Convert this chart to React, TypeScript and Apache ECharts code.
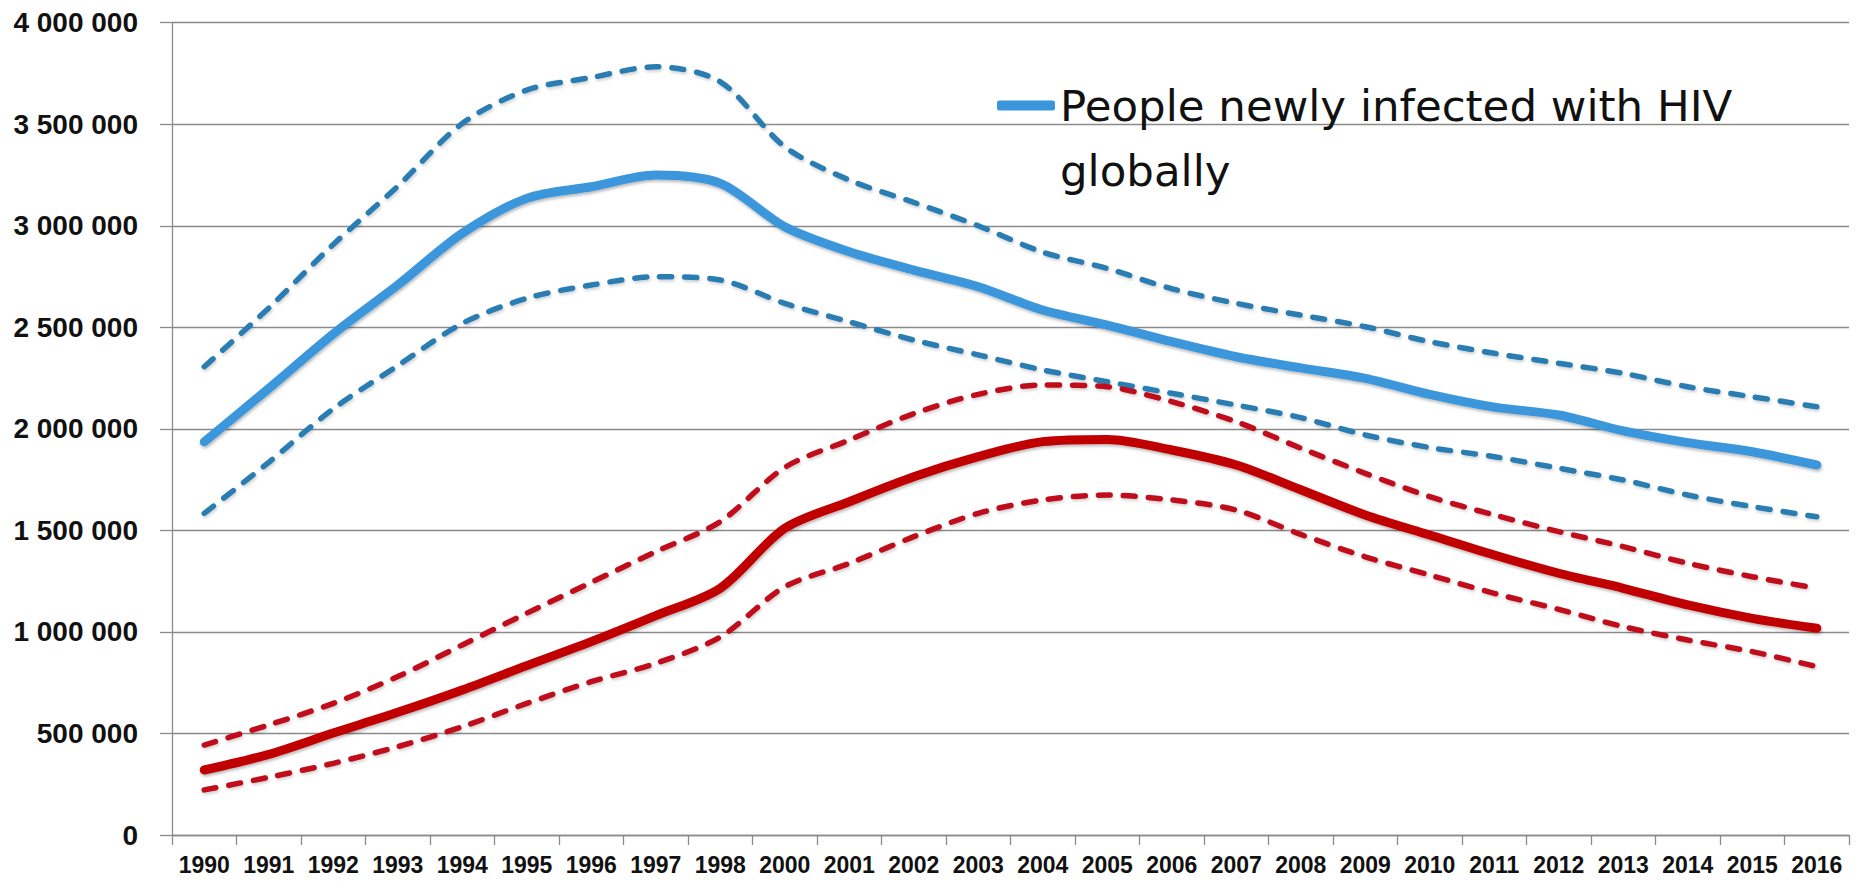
import React, { useEffect, useRef } from "react";
import * as echarts from "echarts";

const years = [
  "1990", "1991", "1992", "1993", "1994", "1995", "1996", "1997", "1998",
  "2000", "2001", "2002", "2003", "2004", "2005", "2006", "2007", "2008",
  "2009", "2010", "2011", "2012", "2013", "2014", "2015", "2016",
];

const globalEstimate = [
  1936000, 2199000, 2467000, 2708000, 2963000, 3135000, 3192000, 3250000, 3209000,
  2995000, 2872000, 2782000, 2700000, 2585000, 2511000, 2429000, 2355000, 2300000,
  2249000, 2170000, 2107000, 2068000, 1990000, 1932000, 1887000, 1822000,
];
const globalUpper = [
  2306000, 2595000, 2908000, 3195000, 3504000, 3668000, 3730000, 3783000, 3709000,
  3389000, 3225000, 3115000, 3000000, 2870000, 2790000, 2690000, 2618000, 2560000,
  2503000, 2429000, 2372000, 2323000, 2273000, 2207000, 2158000, 2109000,
];
const globalLower = [
  1584000, 1835000, 2099000, 2311000, 2519000, 2643000, 2708000, 2749000, 2733000,
  2618000, 2527000, 2437000, 2364000, 2290000, 2232000, 2175000, 2117000, 2055000,
  1970000, 1908000, 1863000, 1806000, 1748000, 1674000, 1617000, 1567000,
];
const redEstimate = [
  320000, 397000, 502000, 604000, 714000, 834000, 952000, 1080000, 1215000,
  1510000, 1641000, 1764000, 1863000, 1937000, 1948000, 1896000, 1822000, 1700000,
  1576000, 1477000, 1379000, 1289000, 1215000, 1133000, 1067000, 1018000,
];
const redUpper = [
  443000, 542000, 648000, 780000, 936000, 1092000, 1244000, 1395000, 1543000,
  1810000, 1945000, 2075000, 2170000, 2216000, 2207000, 2134000, 2035000, 1905000,
  1781000, 1666000, 1576000, 1494000, 1420000, 1338000, 1272000, 1215000,
];
const redLower = [
  222000, 284000, 353000, 435000, 533000, 648000, 755000, 845000, 975000,
  1222000, 1337000, 1469000, 1584000, 1650000, 1674000, 1650000, 1600000, 1480000,
  1370000, 1280000, 1190000, 1111000, 1026000, 960000, 903000, 829000,
];

const LEGEND_NAME = "People newly infected with HIV globally";

const BLUE = "#3a96db";
const BLUE_DASH = "#2b7db3";
const RED = "#c00000";
const RED_DASH = "#bf0a1a";

function fmt(v: number): string {
  return String(v).replace(/\B(?=(\d{3})+(?!\d))/g, " ");
}

export default function App() {
  const ref = useRef<HTMLDivElement>(null);

  useEffect(() => {
    if (!ref.current) return;
    const chart = echarts.init(ref.current, null, { renderer: "svg" });

    const shadow = {
      shadowColor: "rgba(0,0,0,0.28)",
      shadowBlur: 3,
      shadowOffsetX: 1,
      shadowOffsetY: 2,
    };

    const dashed = (name: string, data: number[], color: string) => ({
      name,
      type: "line",
      data,
      symbol: "none",
      smooth: 0.3,
      itemStyle: { color },
      lineStyle: {
        color,
        width: 5.5,
        type: [12, 13],
        cap: "round",
        ...shadow,
        shadowColor: "rgba(0,0,0,0.18)",
      },
      emphasis: { disabled: true },
    });

    const solid = (name: string, data: number[], color: string) => ({
      name,
      type: "line",
      data,
      symbol: "none",
      smooth: 0.3,
      itemStyle: { color },
      lineStyle: { color, width: 9, cap: "round", join: "round", ...shadow },
      emphasis: { disabled: true },
    });

    chart.setOption({
      animation: false,
      backgroundColor: "#ffffff",
      grid: { left: 172, right: 10, top: 22.7, bottom: 47, containLabel: false },
      legend: {
        show: true,
        data: [LEGEND_NAME],
        selectedMode: false,
        left: 997,
        top: 8,
        padding: 0,
        icon: "roundRect",
        itemWidth: 58,
        itemHeight: 10,
        formatter: () => "\nPeople newly infected with HIV\nglobally",
        textStyle: {
          fontFamily: "DejaVu Sans",
          fontSize: 43.5,
          color: "#111111",
          lineHeight: 65,
        },
      },
      xAxis: {
        type: "category",
        data: years,
        boundaryGap: true,
        axisLine: { show: true, lineStyle: { color: "#8a8a8a", width: 1.3 } },
        axisTick: {
          show: true,
          length: 10,
          alignWithLabel: false,
          lineStyle: { color: "#8a8a8a", width: 1.3 },
        },
        axisLabel: {
          interval: 0,
          margin: 18,
          color: "#111111",
          fontFamily: "Liberation Sans",
          fontWeight: "bold",
          fontSize: 23,
        },
        splitLine: { show: false },
      },
      yAxis: {
        type: "value",
        min: 0,
        max: 4000000,
        interval: 500000,
        axisLine: { show: true, lineStyle: { color: "#8a8a8a", width: 1.3 } },
        axisTick: { show: true, length: 12, lineStyle: { color: "#8a8a8a", width: 1.3 } },
        axisLabel: {
          margin: 34,
          color: "#111111",
          fontFamily: "Liberation Sans",
          fontWeight: "bold",
          fontSize: 28,
          formatter: (v: number) => fmt(v),
        },
        splitLine: { show: true, lineStyle: { color: "#8a8a8a", width: 1.3 } },
      },
      series: [
        dashed("Upper estimate (global)", globalUpper, BLUE_DASH),
        dashed("Lower estimate (global)", globalLower, BLUE_DASH),
        solid(LEGEND_NAME, globalEstimate, BLUE),
        dashed("Upper estimate", redUpper, RED_DASH),
        dashed("Lower estimate", redLower, RED_DASH),
        solid("Estimate", redEstimate, RED),
      ],
    });

    return () => chart.dispose();
  }, []);

  return (
    <div
      ref={ref}
      style={{ position: "absolute", left: 0, top: 0, width: 1859, height: 882 }}
    />
  );
}
